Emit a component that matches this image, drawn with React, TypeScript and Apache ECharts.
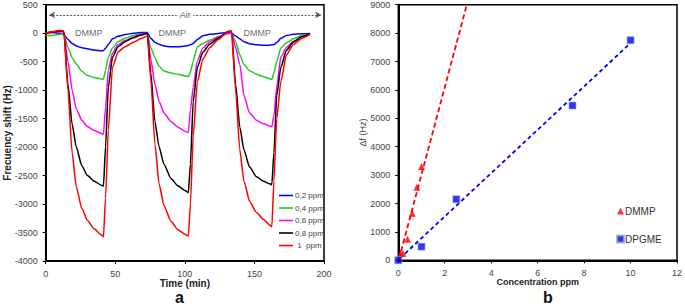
import React, { useEffect, useRef } from "react";
import * as echarts from "echarts";

// ---------- Panel a: frequency shift vs time ----------
const timeMin = [
  0, 5, 10, 13, 16, 19, 22, 26, 30, 35, 40, 41.5, 43, 45, 48, 52, 57, 63, 68, 73,
  75.5, 78.5, 81.5, 85, 90, 95, 100, 102.5, 104, 106, 109, 113, 118, 124, 131, 133.5,
  136.5, 139.5, 142.5, 146.5, 151.5, 156.5, 161, 162.5, 164, 166, 169, 173, 178, 184, 190,
];

const shift02 = [
  10, 10, 0, -20, -110, -180, -225, -255, -275, -295, -310, -305, -265, -200, -100, -55, -25, 0, 10, 10,
  -90, -160, -195, -225, -240, -240, -225, -215, -205, -180, -110, -45, -20, -5, 10, 5,
  -50, -100, -150, -185, -205, -210, -210, -205, -200, -165, -90, -40, -20, -10, -5,
];

const shift04 = [
  -40, -40, -20, -10, -250, -430, -540, -670, -745, -780, -805, -808, -650, -420, -260, -150, -90, -40, -10, 0,
  -250, -430, -580, -665, -700, -720, -750, -765, -680, -490, -240, -180, -120, -60, -10, 0,
  -150, -380, -550, -660, -720, -765, -800, -815, -700, -500, -260, -170, -100, -40, -15,
];

const shift06 = [
  0, 10, 30, 20, -500, -1000, -1330, -1530, -1640, -1710, -1760, -1775, -1300, -650, -350, -200, -130, -70, -20, 0,
  -450, -900, -1200, -1400, -1550, -1650, -1720, -1745, -1350, -950, -480, -260, -150, -70, 0, 10,
  -250, -550, -1100, -1400, -1530, -1590, -1630, -1645, -1450, -950, -420, -250, -140, -70, -20,
];

const shift08 = [
  0, 20, 40, 30, -900, -1600, -2000, -2330, -2500, -2600, -2670, -2685, -2000, -950, -420, -240, -150, -80, -35, 0,
  -700, -1550, -2000, -2300, -2550, -2680, -2760, -2800, -2300, -1200, -600, -330, -190, -90, 30, 40,
  -900, -1650, -2050, -2350, -2520, -2600, -2645, -2660, -2100, -1100, -600, -300, -160, -60, -10,
];

const shift10 = [
  0, 30, 50, 40, -1000, -2100, -2700, -3080, -3290, -3440, -3540, -3575, -2900, -1700, -600, -330, -240, -160, -100, -50,
  -800, -1950, -2650, -3030, -3300, -3450, -3530, -3560, -3000, -1800, -850, -450, -250, -110, 30, 40,
  -1000, -2050, -2600, -2950, -3150, -3270, -3370, -3400, -2600, -1500, -850, -380, -200, -90, -20,
];

const concNames = ["0,2 ppm", "0,4 ppm", "0,6 ppm", "0,8 ppm", " 1  ppm"];
const concValues = [shift02, shift04, shift06, shift08, shift10];
const concColors = ["#0000ff", "#22cc22", "#ff00ff", "#000000", "#ff0000"];

const timeTicks = { min: 0, max: 200, interval: 50 };
const shiftTicks = { min: -4000, max: 500, interval: 500 };

const dmmpLabelTimes = [31, 91, 152];
const dmmpLabelLevel = 0;
const airRange = [2.5, 198];
const airLevel = 320;

// ---------- Panel b: calibration ----------
const dmmpConc = [0.1, 0.2, 0.4, 0.6, 0.8, 1.0];
const dmmpDf = [240, 250, 740, 1655, 2570, 3300];
const dpgmeConc = [0, 1, 2.5, 7.5, 10];
const dpgmeDf = [0, 480, 2150, 5450, 7750];
const dmmpFitConc = [0.03, 2.95];
const dmmpFitDf = [50, 9000];
const dpgmeFitConc = [0.07, 10];
const dpgmeFitDf = [70, 7650];

const concTicks = { min: 0, max: 12, interval: 2 };
const dfTicks = { min: 0, max: 9000, interval: 1000 };

const FONT = "'Liberation Sans', Arial, sans-serif";

function axisCommon() {
  return {
    axisLine: { show: true, onZero: false, lineStyle: { color: "#000", width: 2 } },
    axisTick: { show: true, length: 3, lineStyle: { color: "#000", width: 1 } },
    axisLabel: {
      fontSize: 9,
      color: "#444",
      fontFamily: FONT,
      showMinLabel: true,
      showMaxLabel: true,
      formatter: (v: number) => String(v),
    },
    splitLine: { show: false },
    nameMoveOverlap: false,
  };
}

export default function App() {
  const ref = useRef<HTMLDivElement>(null);

  useEffect(() => {
    if (!ref.current) return;
    const chart = echarts.init(ref.current, null, { renderer: "svg" });

    const lineSeries = concNames.map((name, i) => ({
      type: "line",
      name,
      xAxisIndex: 0,
      yAxisIndex: 0,
      data: timeMin.map((t, j) => [t, concValues[i][j]]),
      symbol: "none",
      showSymbol: false,
      smooth: 0.2,
      smoothMonotone: "x",
      lineStyle: { width: 1.5, color: concColors[i] },
      itemStyle: { color: concColors[i] },
      z: 3 + i,
      ...(i === 0
        ? {
            markLine: {
              silent: true,
              symbol: ["arrow", "arrow"],
              symbolSize: [5, 6],
              lineStyle: { type: [2, 1.5], color: "#555", width: 1 },
              label: { show: false },
              data: [[{ coord: [airRange[0], airLevel] }, { coord: [airRange[1], airLevel] }]],
            },
          }
        : {}),
    }));

    const option = {
      animation: false,
      backgroundColor: "#fff",
      textStyle: { fontFamily: FONT },
      grid: [
        { left: 45.7, top: 4.7, width: 278.3, height: 256.3, show: true, borderColor: "#000", borderWidth: 1.5, backgroundColor: "transparent" },
        { left: 398.3, top: 4.7, width: 280.7, height: 255.6, show: true, borderColor: "#000", borderWidth: 1.5, backgroundColor: "transparent" },
      ],
      xAxis: [
        {
          type: "value",
          gridIndex: 0,
          ...timeTicks,
          ...axisCommon(),
          name: "Time (min)",
          nameLocation: "middle",
          nameGap: 17,
          nameTextStyle: { fontWeight: "bold", fontSize: 10, color: "#222", fontFamily: FONT },
        },
        {
          type: "value",
          gridIndex: 1,
          ...concTicks,
          ...axisCommon(),
          name: "Concentration ppm",
          nameLocation: "middle",
          nameGap: 17,
          nameTextStyle: { fontWeight: "bold", fontSize: 9, color: "#222", fontFamily: FONT },
        },
      ],
      yAxis: [
        {
          type: "value",
          gridIndex: 0,
          ...shiftTicks,
          ...axisCommon(),
          name: "Frecuency shift (Hz)",
          nameLocation: "middle",
          nameGap: 33,
          nameTextStyle: { fontWeight: "bold", fontSize: 10, color: "#222", fontFamily: FONT },
        },
        {
          type: "value",
          gridIndex: 1,
          ...dfTicks,
          ...axisCommon(),
          name: "Δf (Hz)",
          nameLocation: "middle",
          nameGap: 31,
          nameTextStyle: { fontSize: 9, color: "#444", fontFamily: FONT },
        },
      ],
      legend: [
        {
          data: concNames.map((n) => ({ name: n, icon: "rect" })),
          orient: "vertical",
          left: 279,
          top: 191,
          padding: 0,
          itemWidth: 14,
          itemHeight: 1.6,
          itemGap: 3.5,
          textStyle: { fontSize: 8, color: "#444", lineHeight: 9, fontFamily: FONT, padding: [0, 0, 0, -3] },
          selectedMode: false,
        },
        {
          data: [
            { name: "DMMP", icon: "triangle" },
            { name: "DPGME", icon: "rect" },
          ],
          orient: "vertical",
          left: 616,
          top: 206,
          padding: 0,
          itemWidth: 7,
          itemHeight: 7,
          itemGap: 18,
          textStyle: { fontSize: 10, color: "#333", fontFamily: FONT, padding: [0, 0, 0, -4] },
          selectedMode: false,
        },
      ],
      graphic: [
        { type: "text", left: 175, top: 289, style: { text: "a", font: `bold 16px ${FONT}`, fill: "#111" } },
        { type: "text", left: 543, top: 289, style: { text: "b", font: `bold 16px ${FONT}`, fill: "#111" } },
      ],
      series: [
        ...lineSeries,
        {
          type: "scatter",
          name: "labels",
          xAxisIndex: 0,
          yAxisIndex: 0,
          data: dmmpLabelTimes.map((t) => [t, dmmpLabelLevel]),
          symbolSize: 0,
          silent: true,
          z: 10,
          label: { show: true, position: "inside", formatter: "DMMP", fontSize: 9, color: "#444", fontFamily: FONT },
        },
        {
          type: "scatter",
          name: "airLabel",
          xAxisIndex: 0,
          yAxisIndex: 0,
          data: [[(airRange[0] + airRange[1]) / 2, airLevel]],
          symbolSize: 0,
          silent: true,
          z: 10,
          label: {
            show: true,
            position: "inside",
            formatter: "Air",
            fontSize: 9,
            color: "#444",
            fontFamily: FONT,
            backgroundColor: "#fff",
            padding: [1, 3],
          },
        },
        {
          type: "line",
          name: "DMMP fit",
          xAxisIndex: 1,
          yAxisIndex: 1,
          data: dmmpFitConc.map((c, i) => [c, dmmpFitDf[i]]),
          symbol: "none",
          lineStyle: { type: [5, 3], color: "#ff0000", width: 1.8 },
          z: 2,
        },
        {
          type: "line",
          name: "DPGME fit",
          xAxisIndex: 1,
          yAxisIndex: 1,
          data: dpgmeFitConc.map((c, i) => [c, dpgmeFitDf[i]]),
          symbol: "none",
          lineStyle: { type: [4, 3], color: "#0000ff", width: 1.8 },
          z: 2,
        },
        {
          type: "scatter",
          name: "DMMP",
          xAxisIndex: 1,
          yAxisIndex: 1,
          data: dmmpConc.map((c, i) => [c, dmmpDf[i]]),
          symbol: "triangle",
          symbolSize: 7,
          itemStyle: { color: "#ff0000" },
          z: 4,
        },
        {
          type: "scatter",
          name: "DPGME",
          xAxisIndex: 1,
          yAxisIndex: 1,
          data: dpgmeConc.map((c, i) => [c, dpgmeDf[i]]),
          symbol: "rect",
          symbolSize: 7,
          itemStyle: { color: "#0000ff", borderColor: "#9aa", borderWidth: 0.8 },
          z: 5,
        },
      ],
    };

    chart.setOption(option as any);
    return () => chart.dispose();
  }, []);

  return (
    <div
      ref={ref}
      style={{ position: "absolute", left: 0, top: 0, width: 685, height: 306, background: "#fff" }}
    />
  );
}
